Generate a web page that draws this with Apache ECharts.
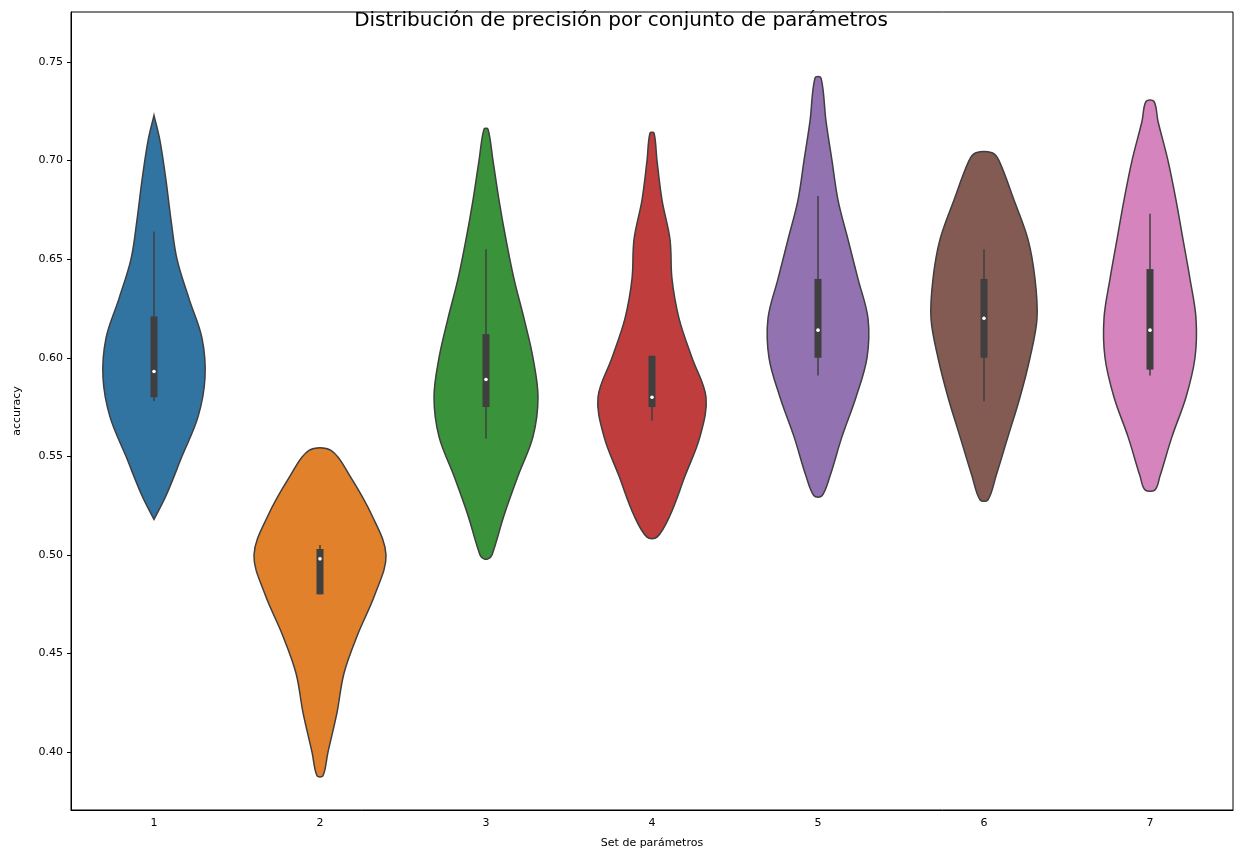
<!DOCTYPE html>
<html>
<head>
<meta charset="utf-8">
<script src="https://cdn.jsdelivr.net/npm/echarts@6/dist/echarts.min.js"></script>
<style>html,body{margin:0;padding:0;background:#fff}#chart{width:1242px;height:865px}</style>
</head>
<body>
<div id="chart"></div>
<script>
const categories = ['1', '2', '3', '4', '5', '6', '7'];
const colors = ['#3274a1', '#e1812c', '#3a923a', '#c03d3e', '#9372b2', '#845b53', '#d684bd'];

// density profile of each violin: accuracy levels (top -> bottom) and relative half widths
const levels = [
  [0.723, 0.71, 0.69, 0.67, 0.65, 0.63, 0.61, 0.59, 0.57, 0.55, 0.53, 0.518],
  [0.553, 0.54, 0.52, 0.50, 0.48, 0.46, 0.44, 0.42, 0.40, 0.388],
  [0.716, 0.70, 0.68, 0.66, 0.64, 0.62, 0.60, 0.58, 0.56, 0.54, 0.52, 0.50, 0.498],
  [0.714, 0.70, 0.68, 0.66, 0.64, 0.62, 0.60, 0.58, 0.56, 0.54, 0.52, 0.509],
  [0.742, 0.72, 0.70, 0.68, 0.66, 0.64, 0.62, 0.60, 0.58, 0.56, 0.54, 0.530],
  [0.704, 0.70, 0.68, 0.66, 0.64, 0.62, 0.60, 0.58, 0.56, 0.54, 0.528],
  [0.730, 0.72, 0.70, 0.68, 0.66, 0.64, 0.62, 0.60, 0.58, 0.56, 0.54, 0.533]
];
const density = [
  [0, 6, 12, 17, 23, 35, 48, 51, 44, 28, 12, 0],
  [11, 30, 52, 66, 55, 38, 24, 17, 8, 3],
  [2, 7, 13, 20, 28, 38, 47, 52, 47, 32, 18, 6, 2],
  [2, 5, 10, 18, 20, 27, 40, 54, 48, 33, 18, 5],
  [3, 8, 14, 20, 30, 40, 50, 49, 38, 24, 12, 4],
  [8, 15, 30, 44, 51, 53, 46, 36, 24, 12, 4],
  [4, 8, 18, 26, 33, 40, 46, 45, 36, 22, 10, 5]
];

const q1 = [0.580, 0.480, 0.575, 0.575, 0.600, 0.600, 0.594];
const q3 = [0.621, 0.503, 0.612, 0.601, 0.640, 0.640, 0.645];
const medians = [0.593, 0.498, 0.589, 0.580, 0.614, 0.620, 0.614];
const whiskLow = [0.578, 0.480, 0.559, 0.568, 0.591, 0.578, 0.591];
const whiskHigh = [0.664, 0.505, 0.655, 0.601, 0.682, 0.655, 0.673];

const yTicks = [0.40, 0.45, 0.50, 0.55, 0.60, 0.65, 0.70, 0.75];

const chart = echarts.init(document.getElementById('chart'));
const edge = '#3f3f3f';

function renderViolin(params, api) {
  const i = params.dataIndex;
  const band = api.size([1, 0])[0];
  const k = band / 166;
  const cx = api.coord([i, 0])[0];
  const lv = levels[i], dn = density[i];
  const left = [], right = [];
  for (let j = 0; j < lv.length; j++) {
    const y = api.coord([i, lv[j]])[1];
    left.push([cx - dn[j] * k, y]);
    right.unshift([cx + dn[j] * k, y]);
  }
  const pts = left.concat(right);
  const yq1 = api.coord([i, q1[i]])[1];
  const yq3 = api.coord([i, q3[i]])[1];
  const ym = api.coord([i, medians[i]])[1];
  return {
    type: 'group',
    children: [
      { type: 'polygon', shape: { points: pts, smooth: 0.35 },
        style: { fill: colors[i], stroke: edge, lineWidth: 1.5 } },
      { type: 'line', shape: { x1: cx, x2: cx, y1: api.coord([i, whiskLow[i]])[1], y2: api.coord([i, whiskHigh[i]])[1] },
        style: { stroke: edge, lineWidth: 1.5 } },
      { type: 'rect', shape: { x: cx - 3.5, y: yq3, width: 7, height: yq1 - yq3 },
        style: { fill: edge } },
      { type: 'circle', shape: { cx: cx, cy: ym, r: 1.8 }, style: { fill: '#fff' } }
    ]
  };
}

chart.setOption({
  animation: false,
  title: {
    text: 'Distribución de precisión por conjunto de parámetros',
    left: 'center', top: 6,
    textStyle: { fontFamily: 'DejaVu Sans', fontSize: 20, fontWeight: 'normal', color: '#000' }
  },
  grid: { left: 71, right: 9, top: 12, bottom: 55, show: true, borderColor: '#000', borderWidth: 1, backgroundColor: 'transparent' },
  xAxis: {
    type: 'category', data: categories, boundaryGap: true,
    name: 'Set de parámetros', nameLocation: 'middle', nameGap: 28,
    nameTextStyle: { fontFamily: 'DejaVu Sans', fontSize: 11, color: '#000' },
    axisLine: { lineStyle: { color: '#000' } },
    axisTick: { alignWithLabel: true, lineStyle: { color: '#000' }, length: 4 },
    axisLabel: { fontFamily: 'DejaVu Sans', fontSize: 11, color: '#000', margin: 8 }
  },
  yAxis: {
    type: 'value', min: 0.3706, max: 0.7754,
    name: 'accuracy', nameLocation: 'middle', nameGap: 48,
    nameTextStyle: { fontFamily: 'DejaVu Sans', fontSize: 11, color: '#000' },
    axisLine: { show: true, lineStyle: { color: '#000' } },
    axisTick: { show: true, customValues: yTicks, length: 4, lineStyle: { color: '#000' } },
    axisLabel: { customValues: yTicks, formatter: v => v.toFixed(2), fontFamily: 'DejaVu Sans', fontSize: 11, color: '#000' },
    splitLine: { show: false }
  },
  series: [{
    type: 'custom',
    renderItem: renderViolin,
    data: categories.map((c, i) => [i, medians[i]]),
    encode: { x: 0, y: 1 },
    z: 3
  }]
});
</script>
</body>
</html>
